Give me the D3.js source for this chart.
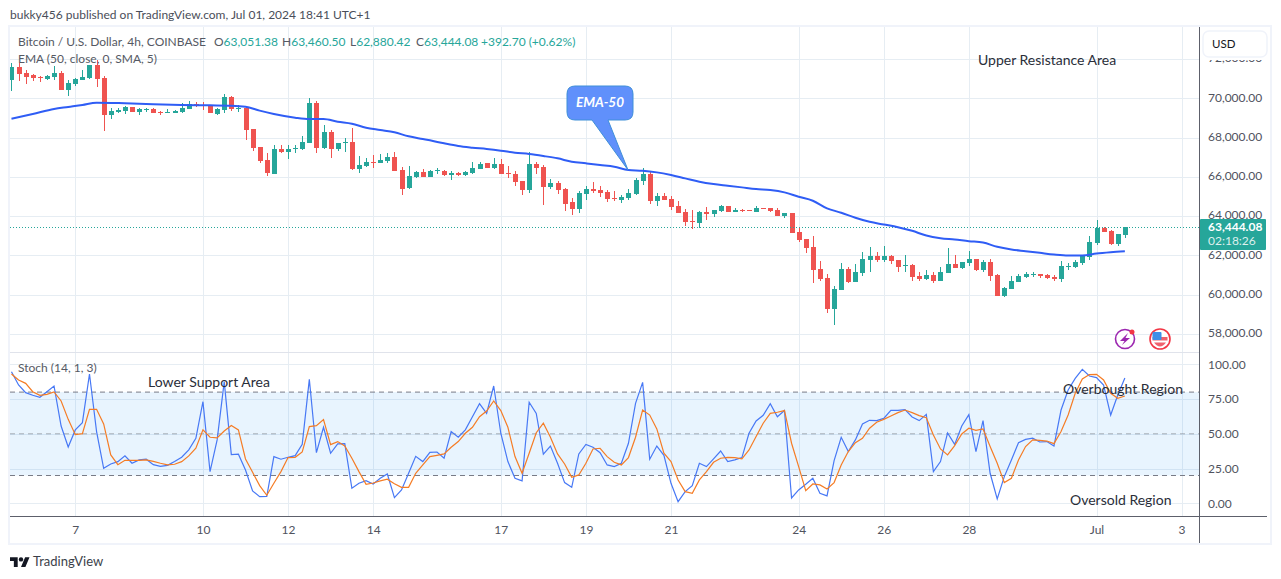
<!DOCTYPE html>
<html>
<head>
<meta charset="utf-8">
<script src="https://d3js.org/d3.v7.min.js"></script>
<style>
	html, body { margin: 0; padding: 0; background: #fff; }
	svg { display: block; }
	text { font-family: Lato, sans-serif; }
</style>
</head>
<body>
<svg id="chart" width="1281" height="579"></svg>
<script>
var opens = [70935,71598,71292,71173,71105,70986,71071,71292,70425,70731,
	70935,71020,71700,71054,69150,69320,69354,69558,69303,69405,
	69456,69303,69269,69269,69303,69473,69694,69643,69626,69201,
	69405,70068,69490,69507,68419,67518,66855,66141,67416,67263,
	67450,67416,67722,69762,67467,68283,67399,67739,67773,66396,
	66549,66753,66719,66787,67008,66328,65427,66005,66243,66005,
	66311,66294,66090,66192,66073,66175,66396,66685,66447,66651,
	66175,66141,65784,65325,66651,66481,65478,65682,65376,64713,
	64356,65138,65376,65325,65223,64900,64815,64917,65121,65784,
	66141,64764,65019,64866,64509,64203,63744,63642,64203,64101,
	64254,64509,64203,64305,64305,64203,64407,64407,64305,64000,
	64152,63179,62822,62414,61292,60833,59252,60221,61292,60629,
	61088,61751,61955,61751,61955,61751,61462,61496,60935,60782,
	60986,60680,61088,61547,61343,61598,61802,61241,61649,60986,
	59915,60272,60629,60884,60986,61037,60986,60884,60782,61411,
	61394,61598,61904,62618,63383,63230,62567,63051.38];

var highs = [71819,71785,71428,71241,71156,71190,71649,71394,70935,71020,
	71445,71700,71955,71139,69490,69507,69592,69558,69524,69524,
	69490,69371,69439,69405,69779,69864,69796,69813,69660,69490,
	70238,70102,69643,69541,68419,67518,67229,67620,67620,67603,
	67603,68079,70000,69864,68623,68368,67705,67994,68470,67076,
	66940,67110,67144,67195,67280,66515,66549,66277,66396,66345,
	66464,66345,66294,66226,66294,66753,66753,66685,66957,66889,
	66549,66294,65784,67263,66736,66583,65886,65784,65410,64917,
	65274,65529,65733,65529,65325,65274,65070,65376,65937,66447,
	66294,65155,65172,65019,64764,64356,64305,64254,64475,64305,
	64560,64509,64390,64356,64305,64509,64407,64407,64407,64152,
	64152,63383,62822,62975,61700,61037,60425,61598,61394,61547,
	62159,62414,62159,62465,62006,61751,62006,61547,61139,61241,
	61139,61394,62363,62006,61649,62210,61802,61751,61802,61037,
	60374,60935,61037,61139,61139,61037,61037,60986,61700,61598,
	61751,62006,62975,63791,63434,63281,63077,63460.50];

var lows = [70391,70884,70748,70884,70850,70918,70935,70425,70119,70629,
	70935,70986,70561,68334,68946,69235,69201,69303,69150,69320,
	69235,69150,69235,69235,69235,69439,69575,69405,69252,69150,
	69235,69371,69320,67875,67331,66685,66039,66141,67229,66923,
	67195,67382,67722,67195,67433,66957,67331,67246,66362,66192,
	66515,66430,66719,66719,66294,65070,65393,65954,66005,65980,
	66141,66039,65852,66056,66039,66158,66396,66447,66396,66141,
	65954,65529,65070,65189,66141,64560,65376,65121,64271,64067,
	64152,64815,65172,64985,64713,64764,64662,64815,65070,65580,
	64611,64509,64815,64305,64152,63489,63336,63387,63795,63948,
	64203,64203,64203,64203,64271,64203,64356,64203,64000,63897,
	63132,62669,62108,60578,60680,59048,58436,60221,60578,60629,
	60935,61139,61649,61649,61547,61139,61139,60680,60680,60731,
	60578,60680,61088,61343,61292,61445,61190,61139,60680,59915,
	59864,60272,60629,60833,60884,60833,60782,60680,60629,61241,
	61343,61496,61751,62516,63179,62516,62465,62880.42];

var closes = [71615,71241,71088,71037,71071,71139,71292,70425,70765,70986,
	71088,71700,70986,69150,69354,69422,69558,69320,69456,69439,
	69269,69269,69303,69354,69507,69694,69609,69609,69252,69456,
	70068,69456,69524,68385,67467,66787,66192,67416,67263,67416,
	67484,67756,69762,67450,68283,67433,67705,67756,66396,66600,
	66736,66719,66855,67008,66294,65393,66039,66243,66005,66294,
	66345,66073,66192,66073,66243,66447,66651,66447,66651,66141,
	66141,65750,65325,66651,66447,65478,65682,65325,64611,64356,
	65172,65376,65274,65172,64866,64866,64968,65172,65835,66141,
	64764,65019,64815,64458,64152,63693,63710,64203,64118,64305,
	64509,64203,64288,64254,64271,64407,64356,64254,64000,64152,
	63132,62771,62363,61241,60782,59252,60272,61292,60629,61139,
	61802,61955,61751,61955,61700,61394,61496,60884,60782,60986,
	60680,61139,61547,61343,61649,61802,61241,61649,60935,59915,
	60323,60680,60935,61037,61037,60935,60833,60816,61445,61445,
	61649,61955,62669,63383,63179,62567,63077,63444.08];

// EMA every couple of bars
var emaBars = [0,3,6,8,10,12,16,20,24,28,31,33,35,37,40,42,44,46,48,50,52,54,56,58,
	59,61,63,65,67,69,71,73,75,77,79,81,83,85,87,89,91,93,95,97,99,101,103,105,107,109,
	111,113,115,117,119,121,123,125,127,129,131,133,135,137,139,141,143,145,147,149,151,153,155,157];
var emaValues = [68963,69201,69456,69558,69660,69779,69745,69694,69660,69643,69626,69575,69371,69201,69014,68946,68946,68810,68708,68504,68385,68266,68062,67926,
	67858,67705,67569,67484,67416,67331,67229,67161,67059,66940,66770,66685,66600,66515,66345,66311,66226,66090,65920,65750,65631,65546,65461,65376,65325,65206,
	64985,64781,64390,64169,63914,63706,63570,63434,63247,63009,62873,62805,62720,62652,62431,62295,62210,62125,62040,61989,61989,62091,62159,62210];

var stochK = [94.7,85.1,79.6,77.7,76.3,80.3,84.4,55.6,40.5,52.8,
	58.0,93.0,51.6,25.2,28.3,30.0,34.1,28.8,31.2,31.7,
	27.8,26.6,27.3,30.0,33.1,38.4,46.8,73.1,22.8,45.6,
	87.5,35.0,35.3,24.0,8.9,4.8,5.0,33.6,31.7,33.1,
	34.3,42.4,89.2,36.4,54.7,36.0,42.7,42.9,10.8,14.4,
	16.3,13.9,18.0,21.1,4.1,9.6,21.6,33.8,30.0,36.7,
	36.9,32.4,51.6,47.5,52.8,62.3,71.7,64.7,84.4,50.4,
	30.0,18.0,16.1,72.7,64.7,35.3,41.2,28.8,14.9,11.5,
	35.5,42.4,40.3,36.4,27.6,26.4,28.8,43.2,71.9,87.0,
	31.7,41.2,34.5,14.4,1.2,8.4,12.7,28.8,26.4,31.9,
	37.6,30.0,31.2,32.9,50.4,59.2,63.3,71.7,62.3,66.7,
	3.8,9.6,13.7,18.0,7.2,5.3,30.7,47.5,37.2,45.6,
	57.1,59.7,59.5,61.1,66.9,66.9,67.4,62.1,59.5,64.0,
	22.8,30.0,50.6,42.4,55.6,63.8,37.2,59.5,21.6,3.1,
	19.2,31.2,43.6,46.0,46.8,44.1,44.4,41.2,67.1,81.5,
	89.9,96.4,91.6,90.4,85.1,63.5,77.9,90.2];

var stochD = [93.0,88.7,86.3,80.3,77.7,78.4,80.1,73.6,60.4,49.4,
	50.1,67.6,67.6,57.1,34.8,27.8,30.9,30.9,30.9,31.2,
	30.2,28.8,27.6,28.1,30.0,34.1,39.6,52.8,47.5,47.0,
	52.0,55.9,52.8,31.9,22.3,12.7,5.8,14.4,22.8,32.9,
	33.1,36.9,55.2,55.9,60.2,42.2,44.4,41.2,32.4,22.8,
	13.7,14.6,16.1,17.3,14.1,11.5,11.5,21.6,27.6,33.6,
	34.5,35.5,40.3,44.4,50.4,54.7,62.3,66.4,73.6,66.7,
	54.7,33.6,21.6,36.0,50.8,57.6,47.5,35.5,28.3,18.7,
	20.4,28.8,39.1,39.6,33.6,29.5,27.6,32.9,47.5,67.1,
	63.5,53.5,36.0,30.0,16.8,8.4,7.2,16.8,22.8,29.5,
	32.4,33.1,32.9,31.9,38.4,48.0,57.6,64.7,65.5,66.7,
	43.2,26.4,9.1,13.9,13.2,10.3,14.9,27.6,37.2,43.6,
	46.8,54.0,58.3,60.4,62.8,65.2,67.1,65.2,63.1,61.6,
	49.2,39.1,34.8,41.5,49.9,54.0,52.5,53.5,40.8,28.8,
	14.9,18.0,31.2,40.8,45.6,45.3,44.8,42.9,51.6,63.5,
	79.1,89.4,92.6,92.8,88.7,79.1,75.5,77.2];

var priceTicks = [72000,70000,68000,66000,64000,62000,60000,58000];
var stochTicks = [100,75,50,25,0];
var stochLevels = [80,50,20];
var dayTickDates = ["2024-06-07","2024-06-10","2024-06-12","2024-06-14","2024-06-17","2024-06-19","2024-06-21","2024-06-24","2024-06-26","2024-06-28","2024-07-01","2024-07-03"];
var dayTickLabels = ["7","10","12","14","17","19","21","24","26","28","Jul","3"];

var lastPrice = 63444.08;
var upColor = "#26a69a", downColor = "#ef5350", gridColor = "#e6edf3", axisColor = "#50535e", lineColor = "#5d606b";
var left = 10, right = 1199, top_ = 27, paneSplit = 353, axisY = 516, bottom = 543;

var svg = d3.select("#chart");
var bars = d3.range(opens.length);
var firstBar = new Date(Date.UTC(2024, 5, 5, 12));
var barTime = function(i) { return d3.utcHour.offset(firstBar, 4 * i); };

var x = d3.scaleUtc().domain([new Date("2024-06-07"), new Date("2024-07-03")]).range([75.3, 1181.6]);
var y = d3.scaleLinear().domain([58000, 70000]).range([333.8, 98.3]);
var yStoch = d3.scaleLinear().domain([0, 100]).range([503.3, 364.3]);
var dayDates = dayTickDates.map(function(d) { return new Date(d); });

svg.append("defs").append("clipPath").attr("id", "priceClip").append("rect")
	.attr("x", left).attr("y", top_).attr("width", right - left).attr("height", paneSplit - top_);
svg.append("defs").append("clipPath").attr("id", "stochClip").append("rect")
	.attr("x", left).attr("y", paneSplit).attr("width", right - left).attr("height", axisY - paneSplit);

// grid
var grid = svg.append("g").attr("stroke", gridColor).attr("stroke-width", 1).attr("shape-rendering", "crispEdges");
grid.selectAll(".v").data(dayDates).join("line")
	.attr("x1", function(d) { return Math.round(x(d)) + 0.5; })
	.attr("x2", function(d) { return Math.round(x(d)) + 0.5; })
	.attr("y1", top_).attr("y2", axisY);
grid.selectAll(".p").data(priceTicks).join("line")
	.attr("x1", left).attr("x2", right)
	.attr("y1", function(d) { return Math.round(y(d)) + 0.5; })
	.attr("y2", function(d) { return Math.round(y(d)) + 0.5; });
grid.selectAll(".s").data(stochTicks).join("line")
	.attr("x1", left).attr("x2", right)
	.attr("y1", function(d) { return Math.round(yStoch(d)) + 0.5; })
	.attr("y2", function(d) { return Math.round(yStoch(d)) + 0.5; });

// stoch band and levels
svg.append("rect")
	.attr("x", left).attr("width", right - left)
	.attr("y", yStoch(stochLevels[0])).attr("height", yStoch(stochLevels[2]) - yStoch(stochLevels[0]))
	.attr("fill", "#2196f3").attr("fill-opacity", 0.1);
svg.append("g").selectAll("line").data(stochLevels).join("line")
	.attr("x1", left).attr("x2", right)
	.attr("y1", function(d) { return yStoch(d); }).attr("y2", function(d) { return yStoch(d); })
	.attr("stroke", "#787b86")
	.attr("stroke-opacity", function(d) { return d === 50 ? 0.6 : 1; })
	.attr("stroke-dasharray", "5,4");

// candles
var pricePane = svg.append("g").attr("clip-path", "url(#priceClip)");
var candleColor = function(i) { return closes[i] >= opens[i] ? upColor : downColor; };
var candleX = function(i) { return Math.round(x(barTime(i))); };

pricePane.append("g").attr("shape-rendering", "crispEdges").selectAll("line").data(bars).join("line")
	.attr("x1", function(i) { return candleX(i) + 0.5; })
	.attr("x2", function(i) { return candleX(i) + 0.5; })
	.attr("y1", function(i) { return y(highs[i]); })
	.attr("y2", function(i) { return y(lows[i]); })
	.attr("stroke", candleColor);
pricePane.append("g").attr("shape-rendering", "crispEdges").selectAll("rect").data(bars).join("rect")
	.attr("x", function(i) { return candleX(i) - 2; })
	.attr("width", 5)
	.attr("y", function(i) { return y(Math.max(opens[i], closes[i])); })
	.attr("height", function(i) { return Math.max(1, Math.abs(y(opens[i]) - y(closes[i]))); })
	.attr("fill", candleColor);

// last price line
pricePane.append("line")
	.attr("x1", left).attr("x2", right)
	.attr("y1", Math.round(y(lastPrice)) + 0.5).attr("y2", Math.round(y(lastPrice)) + 0.5)
	.attr("stroke", upColor).attr("stroke-dasharray", "1,2");

// ema
var emaLine = d3.line()
	.x(function(d, i) { return x(barTime(emaBars[i])); })
	.y(function(d) { return y(d); })
	.curve(d3.curveMonotoneX);
pricePane.append("path").datum(emaValues)
	.attr("d", emaLine).attr("fill", "none").attr("stroke", "#2f5df5").attr("stroke-width", 2);

// stochastic
var stochPane = svg.append("g").attr("clip-path", "url(#stochClip)");
var stochLine = d3.line()
	.x(function(d, i) { return x(barTime(i)); })
	.y(function(d) { return yStoch(d); });
stochPane.append("path").datum(stochK)
	.attr("d", stochLine).attr("fill", "none").attr("stroke", "#4778f5").attr("stroke-width", 1.2);
stochPane.append("path").datum(stochD)
	.attr("d", stochLine).attr("fill", "none").attr("stroke", "#f57c25").attr("stroke-width", 1.2);

// frame
var frame = svg.append("g").attr("shape-rendering", "crispEdges");
frame.append("rect").attr("x", 9).attr("y", 26).attr("width", 1262).attr("height", 518)
	.attr("fill", "none").attr("stroke", "#f0f3fa").attr("stroke-width", 2);
frame.append("line").attr("x1", left).attr("x2", right).attr("y1", paneSplit - 0.5).attr("y2", paneSplit - 0.5).attr("stroke", "#e0e3eb");
frame.append("line").attr("x1", right + 0.5).attr("x2", right + 0.5).attr("y1", top_).attr("y2", bottom).attr("stroke", lineColor);
frame.append("line").attr("x1", left).attr("x2", 1267).attr("y1", axisY + 0.5).attr("y2", axisY + 0.5).attr("stroke", lineColor);

// axes
var styleAxis = function(g) {
	g.select(".domain").remove();
	g.selectAll("text").attr("fill", axisColor).style("font-size", "12px").style("font-family", "Lato, sans-serif");
};
svg.append("g").attr("transform", "translate(" + 1208 + ",-1)")
	.call(d3.axisRight(y).tickValues(priceTicks).tickSize(0).tickPadding(0).tickFormat(d3.format(",.2f")))
	.call(styleAxis);
svg.append("g").attr("transform", "translate(" + 1208 + ",0)")
	.call(d3.axisRight(yStoch).tickValues(stochTicks).tickSize(0).tickPadding(0).tickFormat(d3.format(".2f")))
	.call(styleAxis);
svg.append("g").attr("transform", "translate(0," + 525 + ")")
	.call(d3.axisBottom(x).tickValues(dayDates).tickSize(0).tickPadding(0).tickFormat(function(d, i) { return dayTickLabels[i]; }))
	.call(styleAxis);

// currency button, its white backing hides most of the top price label
svg.append("rect").attr("x", 1200).attr("y", 28).attr("width", 69).attr("height", 32).attr("fill", "#fff");
svg.append("rect").attr("x", 1203).attr("y", 31).attr("width", 64).attr("height", 26).attr("rx", 6)
	.attr("fill", "#fff").attr("stroke", "#f0f3fa").attr("stroke-width", 1.5);
svg.append("text").attr("x", 1212).attr("y", 48).attr("font-size", 11.5).attr("fill", "#131722").text("USD");

// last price label
var priceTag = svg.append("g");
priceTag.append("rect").attr("x", 1200).attr("y", 219).attr("width", 66).attr("height", 31).attr("rx", 1).attr("fill", upColor);
priceTag.append("text").attr("x", 1208).attr("y", 231).attr("font-size", 12).attr("font-weight", 700).attr("fill", "#fff").text(d3.format(",.2f")(lastPrice));
priceTag.append("text").attr("x", 1208).attr("y", 245).attr("font-size", 12).attr("fill", "#fff").attr("fill-opacity", 0.85).text("02:18:26");

// header and legends
svg.append("text").attr("x", 10).attr("y", 19).attr("font-size", 12).attr("fill", "#4a4e59").text("bukky456 published on TradingView.com, Jul 01, 2024 18:41 UTC+1");

var legendTitle = "#555963";
svg.append("text").attr("x", 18).attr("y", 46).attr("font-size", 12).attr("fill", legendTitle).text("Bitcoin / U.S. Dollar, 4h, COINBASE");
svg.append("text").attr("x", 18).attr("y", 63).attr("font-size", 12).attr("fill", legendTitle).text("EMA (50, close, 0, SMA, 5)");
svg.append("text").attr("x", 18).attr("y", 372).attr("font-size", 12).attr("fill", legendTitle).text("Stoch (14, 1, 3)");

var ohlcLabels = ["O", "H", "L", "C"];
var ohlcValues = [opens[157], highs[157], lows[157], closes[157]];
var ohlcX = [214, 282, 350, 416];
ohlcLabels.forEach(function(label, i) {
	var t = svg.append("text").attr("x", ohlcX[i]).attr("y", 46).attr("font-size", 12).attr("fill", legendTitle).text(label);
	t.append("tspan").attr("fill", upColor).text(d3.format(",.2f")(ohlcValues[i]));
});
svg.append("text").attr("x", 481).attr("y", 46).attr("font-size", 12).attr("fill", upColor).text("+392.70 (+0.62%)");

// annotations
var annotations = [
	["Upper Resistance Area", 978, 65],
	["Lower Support Area", 148, 387],
	["Overbought Region", 1063, 394],
	["Oversold Region", 1070, 505]
];
svg.append("g").selectAll("text").data(annotations).join("text")
	.attr("x", function(d) { return d[1]; }).attr("y", function(d) { return d[2]; })
	.attr("font-size", 14).attr("fill", "#2a2e39").text(function(d) { return d[0]; });

// callout
svg.append("path")
	.attr("d", "M575 86H625Q633 86 633 94V112Q633 120 625 120H608L628 170L592 120H575Q567 120 567 112V94Q567 86 575 86Z")
	.attr("fill", "#6090fb").attr("stroke", "#3f8fd8").attr("stroke-width", 1);
svg.append("text").attr("x", 600).attr("y", 107).attr("text-anchor", "middle")
	.attr("font-size", 13.5).attr("font-style", "italic").attr("font-weight", 700).attr("fill", "#fff").text("EMA-50");

// small icons
var bolt = svg.append("g").attr("transform", "translate(1125,339)");
bolt.append("circle").attr("r", 9.5).attr("fill", "#fff").attr("stroke", "#9c27b0").attr("stroke-width", 1.6);
bolt.append("path").attr("d", "M3 -6L-5 2H-0.5L-3 6L5 -1H0.5Z").attr("fill", "#9c27b0");
bolt.append("circle").attr("cx", 7).attr("cy", -7).attr("r", 2.5).attr("fill", "#f23645");

var flag = svg.append("g").attr("transform", "translate(1160,339)");
flag.append("circle").attr("r", 10).attr("fill", "#fff").attr("stroke", "#f23645").attr("stroke-width", 1.6);
flag.append("rect").attr("x", -7.5).attr("y", -2).attr("width", 15).attr("height", 3.5).attr("fill", "#f0616d");
flag.append("path").attr("d", "M-6 3.5H6Q3 7.5 0 7.5Q-3 7.5 -6 3.5Z").attr("fill", "#f0616d");
flag.append("rect").attr("x", -7.5).attr("y", -7).attr("width", 9).attr("height", 8).attr("rx", 1).attr("fill", "#3d8fe8");

// footer logo
var logo = svg.append("g").attr("transform", "translate(10,555) scale(0.55)").attr("fill", "#131722");
logo.append("path").attr("d", "M14 22H7V11H0V4h14v18zM28 22h-8l7.5-18h8L28 22z");
logo.append("circle").attr("cx", 20).attr("cy", 8).attr("r", 4);
svg.append("text").attr("x", 33).attr("y", 566).attr("font-size", 13).attr("fill", "#3c3f4a").text("TradingView");
</script>
</body>
</html>
